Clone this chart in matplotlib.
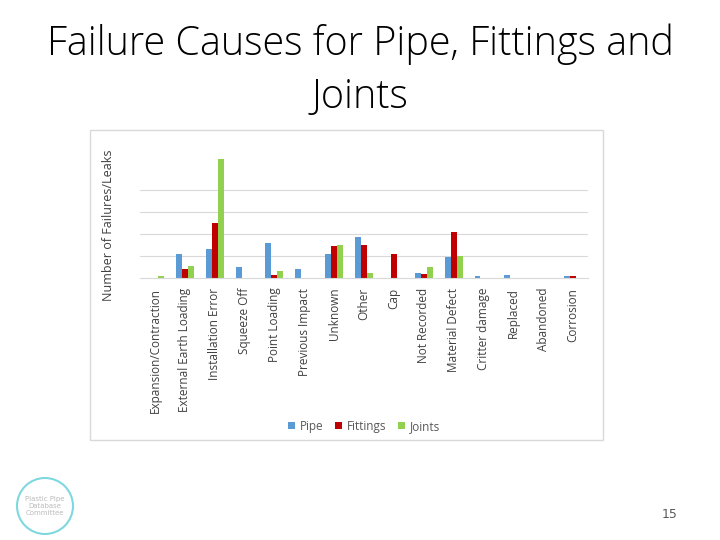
import matplotlib
matplotlib.use("Agg")
import matplotlib.pyplot as plt
import numpy as np
from matplotlib.patches import Rectangle, Ellipse

categories = ["Expansion/Contraction", "External Earth Loading", "Installation Error", "Squeeze Off",
              "Point Loading", "Previous Impact", "Unknown", "Other", "Cap", "Not Recorded",
              "Material Defect", "Critter damage", "Replaced", "Abandoned", "Corrosion"]
pipe = [0, 11, 13.3, 5.2, 16, 4.2, 11, 18.8, 0, 2.4, 9.7, 1, 1.5, 0, 1]
fittings = [0, 4.2, 25, 0, 1.5, 0, 14.7, 15.2, 11, 2, 21, 0, 0, 0, 1]
joints = [1, 5.6, 54, 0, 3.3, 0, 15.2, 2.4, 0, 5.2, 10.2, 0, 0, 0, 0]

fig = plt.figure(figsize=(7.2, 5.4), dpi=100)
fig.text(0.5, 0.957, "Failure Causes for Pipe, Fittings and\nJoints", ha="center", va="top",
         fontsize=28.5, family="Open Sans", fontweight="light", linespacing=1.4)
fig.patches.append(Rectangle((90/720, 1-440/540), 513/720, 310/540, transform=fig.transFigure,
                             fill=False, edgecolor="#d9d9d9", lw=1))
ax = fig.add_axes([140/720, 1-278/540, 448/720, 138/540])
x = np.arange(len(categories))
w = 0.2
ax.bar(x - w, pipe, w, color="#5b9bd5", label="Pipe")
ax.bar(x, fittings, w, color="#c00000", label="Fittings")
ax.bar(x + w, joints, w, color="#92d050", label="Joints")
ax.set_xlim(-0.5, len(categories) - 0.5)
ax.set_ylim(0, 62.7)
ax.set_yticks([10, 20, 30, 40])
ax.set_yticklabels([])
ax.tick_params(left=False, bottom=False)
ax.yaxis.grid(True, color="#d9d9d9", lw=0.8)
ax.set_axisbelow(True)
for s in ["left", "right", "top"]:
    ax.spines[s].set_visible(False)
ax.spines["bottom"].set_color("#d9d9d9")
ax.set_xticks(x)
ax.set_xticklabels(categories, rotation=90, fontsize=8.5, color="#404040", family="Open Sans")
ax.set_ylabel("Number of Failures/Leaks", fontsize=9, color="#404040", family="Open Sans")
ax.yaxis.set_label_coords(-0.055, 0.38)
ax.legend(loc="upper center", bbox_to_anchor=(0.5, -0.95), ncol=3, frameon=False,
          handlelength=0.6, handleheight=0.6, labelcolor="#595959", columnspacing=1.0, handletextpad=0.4,
          prop={"family": "Open Sans", "size": 8.5})
fig.patches.append(Ellipse((45/720, 1-506/540), 56/720, 56/540, transform=fig.transFigure, fill=False,
                           edgecolor="#7fd8e0", lw=1.5))
fig.text(45/720, 1-506/540, "Plastic Pipe\nDatabase\nCommittee", ha="center", va="center", fontsize=5, color="#bbbbbb")
fig.text(670/720, 1-515/540, "15", ha="center", va="center", fontsize=9, color="#595959")
fig.savefig("out.png", dpi=100)
